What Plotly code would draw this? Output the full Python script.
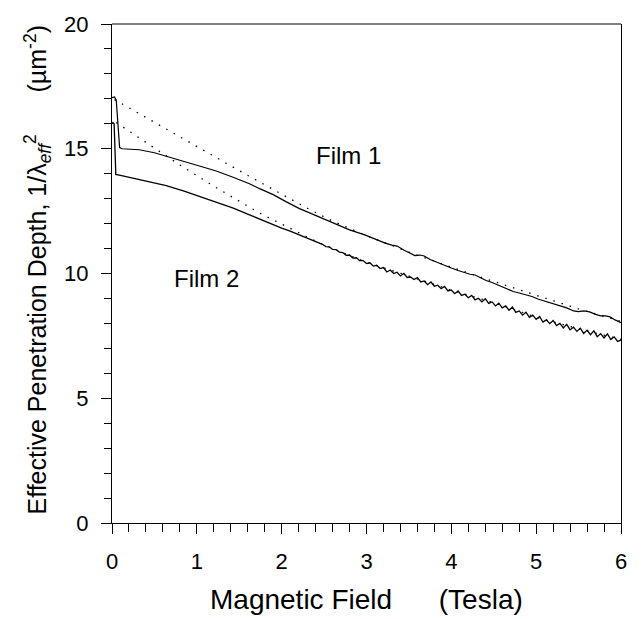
import plotly.graph_objects as go

# ---------------- data ----------------
film1_x = [0.00, 0.03, 0.05, 0.07, 0.09, 0.12, 0.32, 0.50, 0.64, 0.85, 1.03, 1.22, 1.42, 1.62,
           1.74, 1.90, 2.05, 2.21, 2.35, 2.50, 2.65, 2.80, 2.98, 3.10, 3.22, 3.30, 3.36, 3.45,
           3.51, 3.57, 3.63, 3.68, 3.75, 3.82, 3.86, 3.92, 4.00, 4.08, 4.14, 4.18, 4.22, 4.28,
           4.34, 4.41, 4.48, 4.56, 4.64, 4.73, 4.80, 4.88, 4.95, 5.02, 5.10, 5.20, 5.28, 5.36,
           5.44, 5.50, 5.56, 5.63, 5.70, 5.76, 5.82, 5.87, 5.93, 6.00]
film1_y = [17.05, 17.08, 16.95, 15.90, 15.05, 15.00, 14.96, 14.84, 14.70, 14.52, 14.34, 14.12, 13.87, 13.60,
           13.40, 13.16, 12.88, 12.60, 12.40, 12.18, 11.97, 11.75, 11.55, 11.38, 11.22, 11.14, 11.10, 10.92,
           10.82, 10.72, 10.74, 10.70, 10.56, 10.46, 10.40, 10.32, 10.22, 10.12, 10.06, 9.99, 9.97, 9.94,
           9.84, 9.72, 9.64, 9.52, 9.40, 9.28, 9.22, 9.16, 9.08, 8.98, 8.90, 8.80, 8.70, 8.62,
           8.50, 8.47, 8.50, 8.46, 8.36, 8.30, 8.30, 8.26, 8.14, 8.03]

film2_x = [0.00, 0.01, 0.025, 0.035, 0.045, 0.10, 0.25, 0.45, 0.64, 0.85, 1.03, 1.23, 1.43, 1.60,
           1.74, 1.84, 2.00, 2.10, 2.20, 2.28,
           2.32, 2.36, 2.40, 2.44, 2.48, 2.52, 2.56, 2.60, 2.64, 2.68, 2.72, 2.76, 2.80, 2.84,
           2.88, 2.92, 2.96, 3.00, 3.04, 3.08, 3.12, 3.16, 3.20, 3.24, 3.28, 3.32, 3.36, 3.40,
           3.44, 3.48, 3.52, 3.56, 3.60, 3.64, 3.68, 3.72, 3.76, 3.80, 3.84, 3.88, 3.92, 3.96,
           4.00, 4.04, 4.08, 4.12, 4.16, 4.20, 4.24, 4.28, 4.32, 4.36, 4.40, 4.44, 4.48, 4.52,
           4.56, 4.60, 4.64, 4.68, 4.72, 4.76, 4.80, 4.84, 4.88, 4.92, 4.96, 5.00, 5.04, 5.08,
           5.12, 5.16, 5.20, 5.24, 5.28, 5.32, 5.36, 5.40, 5.44, 5.48, 5.52, 5.56, 5.60, 5.64,
           5.68, 5.72, 5.76, 5.80, 5.84, 5.88, 5.92, 5.96, 6.00]
film2_y = [16.00, 16.05, 16.00, 14.20, 13.97, 13.93, 13.81, 13.66, 13.52, 13.30, 13.08, 12.86, 12.62, 12.38,
           12.18, 12.06, 11.82, 11.70, 11.56, 11.45,
           11.40, 11.33, 11.28, 11.22, 11.17, 11.08, 11.07, 10.97, 10.96, 10.86, 10.84, 10.73, 10.74, 10.62,
           10.63, 10.52, 10.52, 10.40, 10.43, 10.30, 10.33, 10.20, 10.24, 10.06, 10.14, 10.00, 10.05, 9.90,
           10.00, 9.84, 9.86, 9.76, 9.84, 9.66, 9.70, 9.55, 9.66, 9.49, 9.53, 9.39, 9.48, 9.30,
           9.34, 9.19, 9.30, 9.12, 9.17, 9.03, 9.12, 8.94, 9.01, 8.86, 8.99, 8.80, 8.86, 8.70,
           8.81, 8.62, 8.70, 8.53, 8.66, 8.44, 8.50, 8.33, 8.45, 8.24, 8.33, 8.16, 8.28, 8.05,
           8.14, 7.99, 8.12, 7.91, 8.00, 7.82, 7.96, 7.74, 7.85, 7.68, 7.81, 7.60, 7.73, 7.55,
           7.70, 7.47, 7.59, 7.42, 7.58, 7.35, 7.46, 7.28, 7.33]

fit1_x = [0.03, 0.4, 0.8, 1.2, 1.6, 2.0, 2.3, 2.6, 3.0, 3.5, 4.0, 4.5, 5.0, 5.5, 6.0]
fit1_y = [16.97, 16.25, 15.47, 14.70, 13.93, 13.18, 12.62, 12.10, 11.52, 10.86, 10.25, 9.68, 9.12, 8.58, 8.08]

fit2_x = [0.05, 0.4, 0.8, 1.2, 1.5, 1.74, 2.0, 2.2, 2.4, 2.6, 3.0, 3.5, 4.0, 4.5, 5.0, 5.5, 6.0]
fit2_y = [16.05, 15.25, 14.35, 13.50, 12.90, 12.42, 11.98, 11.64, 11.30, 11.00, 10.45, 9.90, 9.33, 8.83, 8.25, 7.78, 7.36]

labels_text = ["Film 1", "Film 2"]
labels_x = [2.79, 1.11]
labels_y = [14.71, 9.79]

x_ticks = [0, 1, 2, 3, 4, 5, 6]
y_ticks = [0, 5, 10, 15, 20]

FONT = "Liberation Sans, Arial, sans-serif"
SP = "\u00a0" * 6

fig = go.Figure()
for fx, fy in [(fit1_x, fit1_y), (fit2_x, fit2_y)]:
    fig.add_trace(go.Scatter(x=fx, y=fy, mode="lines",
                             line=dict(color="black", width=1.3, dash="1.5px,7px"),
                             showlegend=False, hoverinfo="skip"))
fig.add_trace(go.Scatter(x=film1_x, y=film1_y, mode="lines",
                         line=dict(color="black", width=1.2), showlegend=False))
fig.add_trace(go.Scatter(x=film2_x, y=film2_y, mode="lines",
                         line=dict(color="black", width=1.3), showlegend=False))

for t, lx, ly in zip(labels_text, labels_x, labels_y):
    fig.add_annotation(x=lx, y=ly, text=t, showarrow=False,
                       font=dict(family=FONT, size=24, color="black"))

# axis titles
fig.add_annotation(xref="paper", yref="paper", x=0.5, y=0, yshift=-76,
                   xanchor="center", yanchor="middle",
                   text="Magnetic Field" + SP + "(Tesla)", showarrow=False,
                   font=dict(family=FONT, size=28, color="black"))
fig.add_annotation(xref="paper", yref="paper", x=0, y=0.5, xshift=-75, yshift=3, textangle=-90,
                   xanchor="center", yanchor="middle",
                   text="Effective Penetration Depth, 1/\u03bb<sub><i>eff</i></sub><sup>2</sup>"
                        + SP + "(\u00b5m<sup>-2</sup>)",
                   showarrow=False, font=dict(family=FONT, size=25, color="black"))

# top frame line (grey)
fig.add_shape(type="line", xref="paper", yref="paper", x0=0, x1=1, y0=1, y1=1,
              line=dict(color="#555555", width=1.5))

fig.update_layout(
    width=642, height=619,
    margin=dict(l=112, r=21, t=17, b=96),
    plot_bgcolor="white", paper_bgcolor="white",
    font=dict(family=FONT, size=22, color="black"),
    xaxis=dict(range=[0, 6], tickvals=x_ticks, ticks="outside", ticklen=10, tickwidth=1.2,
               tickcolor="black", showline=True, linecolor="black", linewidth=1.3,
               showgrid=False, zeroline=False, mirror=False,
               minor=dict(dtick=0.2, ticks="outside", ticklen=8, tickcolor="black", tickwidth=1.1),
               ticklabelstandoff=8,
               tickfont=dict(family=FONT, size=22, color="black")),
    yaxis=dict(range=[0, 20], tickvals=y_ticks, ticks="outside", ticklen=10, tickwidth=1.2,
               tickcolor="black", showline=True, linecolor="black", linewidth=1.3,
               showgrid=False, zeroline=False, mirror=True,
               minor=dict(dtick=1, ticks="outside", ticklen=7, tickcolor="black", tickwidth=1.1),
               ticklabelstandoff=8,
               tickfont=dict(family=FONT, size=22, color="black")),
)

fig.write_html("out.html")
